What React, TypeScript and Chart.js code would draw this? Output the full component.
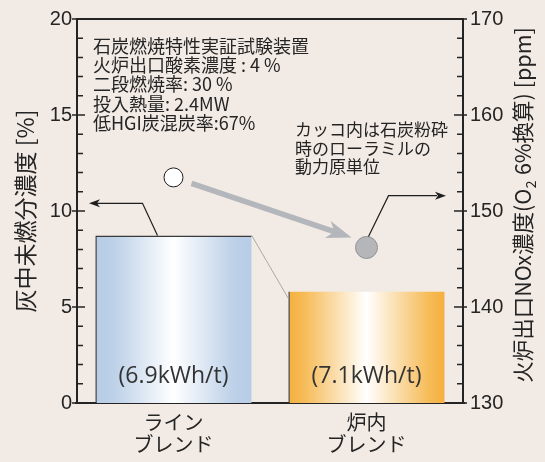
import { useEffect, useRef } from 'react';
import { Chart, registerables } from 'chart.js';

Chart.register(...registerables);

// ---- data ----
const categories: string[][] = [['ライン', 'ブレンド'], ['炉内', 'ブレンド']];
const unburnedCarbon: number[] = [8.73, 5.81]; // 灰中未燃分濃度 [%]
const noxPpm: number[] = [153.5, 146.2]; // 火炉出口NOx濃度 [ppm]
const powerNotes: string[] = ['(6.9kWh/t)', '(7.1kWh/t)'];
const leftTickValues: number[] = [0, 5, 10, 15, 20];
const rightTickValues: number[] = [130, 140, 150, 160, 170];
const conditionNotes: string[] = [
  '石炭燃焼特性実証試験装置',
  '火炉出口酸素濃度 : 4 %',
  '二段燃焼率: 30 %',
  '投入熱量: 2.4MW',
  '低HGI炭混炭率:67%',
];
const bracketNote: string[] = ['カッコ内は石炭粉砕', '時のローラミルの', '動力原単位'];
const leftTitle = '灰中未燃分濃度 [%]';
// right axis title: [normal, subscript, normal]
const rightTitleParts: string[] = ['火炉出口NOx濃度(O', '2', ' 6%換算) [ppm]'];

// ---- style ----
const BG = '#f2eae4';
const INK = '#242424';
const BAR_PCT = 0.81;
const JP = '"Noto Sans CJK JP", "Noto Sans", sans-serif';
const NUM = '"Liberation Sans", Arial, sans-serif';
const gradStops: [number, string][][] = [
  [[0, '#b7cde6'], [0.12, '#bdd1e8'], [0.5, '#ffffff'], [0.88, '#bdd1e8'], [1, '#b7cde6']],
  [[0, '#f4b03e'], [0.1, '#f6bb57'], [0.5, '#ffffff'], [0.9, '#f6bb57'], [1, '#f4b03e']],
];

function arrowHead(ctx: CanvasRenderingContext2D, tx: number, ty: number, angle: number, len: number, half: number, notch: number, color: string) {
  ctx.save();
  ctx.translate(tx, ty);
  ctx.rotate(angle);
  ctx.beginPath();
  ctx.moveTo(0, 0);
  ctx.lineTo(-len, -half);
  ctx.lineTo(-len + notch, 0);
  ctx.lineTo(-len, half);
  ctx.closePath();
  ctx.fillStyle = color;
  ctx.fill();
  ctx.restore();
}

const framePlugin = {
  id: 'frame',
  beforeDatasetsDraw(chart: any) {
    const { ctx, chartArea: a, scales } = chart;
    const y = scales.y;
    const y1 = scales.y1;
    ctx.save();
    ctx.strokeStyle = INK;
    ctx.lineWidth = 2;
    ctx.beginPath();
    ctx.moveTo(a.left, a.top);
    ctx.lineTo(a.right, a.top);
    ctx.moveTo(a.left, a.top - 1);
    ctx.lineTo(a.left, a.bottom + 1);
    ctx.moveTo(a.right, a.top - 1);
    ctx.lineTo(a.right, a.bottom + 1);
    ctx.moveTo(a.left - 2, a.bottom);
    ctx.lineTo(a.right + 2, a.bottom);
    ctx.stroke();
    // ticks
    ctx.lineWidth = 1.5;
    ctx.beginPath();
    for (let v = 0; v <= 20; v += 1) {
      const p = y.getPixelForValue(v);
      const major = v % 5 === 0;
      ctx.moveTo(major ? a.left - 5 : a.left, p);
      ctx.lineTo(a.left + (major ? 8 : 6), p);
    }
    for (let v = 130; v <= 170; v += 2) {
      const p = y1.getPixelForValue(v);
      const major = v % 10 === 0;
      ctx.moveTo(a.right - (major ? 9 : 6), p);
      ctx.lineTo(major ? a.right + 4 : a.right, p);
    }
    ctx.stroke();

    // right axis title, reading bottom-to-top, with subscript
    ctx.fillStyle = INK;
    ctx.textBaseline = 'middle';
    ctx.textAlign = 'left';
    const big = `21.5px ${JP}`;
    const small = `14px ${JP}`;
    ctx.font = big;
    const w0 = ctx.measureText(rightTitleParts[0]).width;
    const w2 = ctx.measureText(rightTitleParts[2]).width;
    ctx.font = small;
    const w1 = ctx.measureText(rightTitleParts[1]).width + 1;
    const total = w0 + w1 + w2;
    ctx.translate(a.right + 60, (a.top + a.bottom) / 2 - 6);
    ctx.rotate(-Math.PI / 2);
    let xx = -total / 2;
    ctx.font = big;
    ctx.fillText(rightTitleParts[0], xx, 0);
    xx += w0;
    ctx.font = small;
    ctx.fillText(rightTitleParts[1], xx + 0.5, 8);
    xx += w1;
    ctx.font = big;
    ctx.fillText(rightTitleParts[2], xx, 0);
    ctx.restore();
  },
  afterDatasetsDraw(chart: any) {
    const { ctx, chartArea: a, scales } = chart;
    const xs = scales.x;
    const y = scales.y;
    const y1 = scales.y1;
    const half = (xs.width / categories.length) * BAR_PCT / 2;
    const c0 = xs.getPixelForValue(0);
    const c1 = xs.getPixelForValue(1);
    const top0 = y.getPixelForValue(unburnedCarbon[0]);
    const top1 = y.getPixelForValue(unburnedCarbon[1]);
    const p0 = { x: c0, y: y1.getPixelForValue(noxPpm[0]) };
    const p1 = { x: c1, y: y1.getPixelForValue(noxPpm[1]) };
    ctx.save();

    // thin gray connector between bars
    ctx.strokeStyle = '#a9a9a9';
    ctx.lineWidth = 1;
    ctx.beginPath();
    ctx.moveTo(c0 + half, top0);
    ctx.lineTo(c1 - half, top1 + 7);
    ctx.stroke();

    // thick gray arrow between NOx points
    const sx = p0.x + 18, sy = p0.y + 6;
    const tx = p1.x - 15, ty = p1.y - 10;
    const ang = Math.atan2(ty - sy, tx - sx);
    ctx.strokeStyle = '#b3b6ba';
    ctx.lineWidth = 5.5;
    ctx.beginPath();
    ctx.moveTo(sx, sy);
    ctx.lineTo(tx - 16 * Math.cos(ang), ty - 16 * Math.sin(ang));
    ctx.stroke();
    arrowHead(ctx, tx, ty, ang, 25, 9, 7, '#b3b6ba');

    // black leader arrow: bar -> left axis
    const ey = y.getPixelForValue(10.4);
    ctx.strokeStyle = '#1e1e1e';
    ctx.lineWidth = 1.2;
    ctx.beginPath();
    ctx.moveTo(c0 - 16, top0);
    ctx.lineTo(c0 - 31, ey);
    ctx.lineTo(a.left + 20, ey);
    ctx.stroke();
    arrowHead(ctx, a.left + 12, ey, Math.PI, 11, 4, 3, '#1e1e1e');

    // black leader arrow: point -> right axis
    const ry = y1.getPixelForValue(151.6);
    ctx.beginPath();
    ctx.moveTo(p1.x + 2, p1.y - 11);
    ctx.lineTo(p1.x + 22, ry);
    ctx.lineTo(a.right - 26, ry);
    ctx.stroke();
    arrowHead(ctx, a.right - 17, ry, 0, 11, 4, 3, '#1e1e1e');

    // notes
    ctx.fillStyle = INK;
    ctx.textBaseline = 'middle';
    ctx.textAlign = 'left';
    ctx.font = `18px ${JP}`;
    conditionNotes.forEach((t, i) => ctx.fillText(t, a.left + 16, a.top + 27 + i * 19.3));
    ctx.font = `17px ${JP}`;
    bracketNote.forEach((t, i) => ctx.fillText(t, a.left + 218, a.top + 111 + i * 18.2));
    ctx.fillStyle = '#333333';
    ctx.textAlign = 'center';
    ctx.font = `23px "Open Sans", "Noto Sans", sans-serif`;
    powerNotes.forEach((t, i) => ctx.fillText(t, xs.getPixelForValue(i), a.bottom - 27));
    ctx.restore();
  },
};

export default function App() {
  const ref = useRef<HTMLCanvasElement | null>(null);
  useEffect(() => {
    document.body.style.margin = '0';
    document.body.style.background = BG;
    if (!ref.current) return;
    Chart.defaults.font.family = JP;
    const chart = new Chart(ref.current, {
      type: 'bar',
      data: {
        labels: categories,
        datasets: [
          {
            type: 'bar',
            label: '灰中未燃分濃度',
            data: unburnedCarbon,
            yAxisID: 'y',
            barPercentage: BAR_PCT,
            categoryPercentage: 1,
            borderColor: '#3a3a3a',
            borderWidth: [
              { top: 1.5, left: 1.5, right: 0, bottom: 0 },
              { top: 0, left: 1.5, right: 0, bottom: 0 },
            ] as any,
            borderSkipped: false,
            backgroundColor: (c: any) => {
              const chart = c.chart;
              const idx = c.dataIndex ?? 0;
              const xs = chart.scales?.x;
              if (!chart.chartArea || !xs || c.type !== 'data') return idx === 0 ? '#c9daec' : '#f6c46a';
              const cx = xs.getPixelForValue(idx);
              const half = (xs.width / categories.length) * BAR_PCT / 2;
              const g = chart.ctx.createLinearGradient(cx - half, 0, cx + half, 0);
              gradStops[idx].forEach(([o, col]) => g.addColorStop(o, col));
              return g;
            },
            order: 2,
          } as any,
          {
            type: 'line',
            label: '火炉出口NOx濃度',
            data: noxPpm,
            yAxisID: 'y1',
            showLine: false,
            pointRadius: [9.5, 11],
            pointBackgroundColor: ['#ffffff', '#b4b6b9'],
            pointBorderColor: ['#1e1e1e', '#8f9194'],
            pointBorderWidth: 1,
            order: 1,
          } as any,
        ],
      },
      options: {
        responsive: false,
        animation: false,
        layout: { padding: { top: 16, left: 0, right: 0, bottom: 0 } },
        plugins: { legend: { display: false }, tooltip: { enabled: false } },
        scales: {
          x: {
            offset: true,
            grid: { display: false, drawTicks: false },
            border: { display: false },
            ticks: { color: INK, font: { family: JP, size: 20, lineHeight: 1.1 }, padding: 8, maxRotation: 0 },
            afterFit: (s: any) => { s.height = 59; },
          },
          y: {
            position: 'left',
            min: 0,
            max: 20,
            afterBuildTicks: (s: any) => { s.ticks = leftTickValues.map((v) => ({ value: v })); },
            grid: { display: false, drawTicks: false },
            border: { display: false },
            ticks: { color: INK, font: { family: NUM, size: 20 }, padding: 5 },
            title: { display: true, text: leftTitle, color: INK, font: { family: JP, size: 23 }, padding: { top: 11, bottom: 11 } },
            afterFit: (s: any) => { s.width = 77; },
          },
          y1: {
            position: 'right',
            min: 130,
            max: 170,
            afterBuildTicks: (s: any) => { s.ticks = rightTickValues.map((v) => ({ value: v })); },
            grid: { display: false, drawTicks: false },
            border: { display: false },
            ticks: { color: INK, font: { family: NUM, size: 20 }, padding: 7 },
            afterFit: (s: any) => { s.width = 82; },
          },
        },
      },
      plugins: [framePlugin],
    });
    return () => chart.destroy();
  }, []);
  return (
    <div style={{ width: 545, height: 462, background: BG }}>
      <canvas ref={ref} width={545} height={462} style={{ display: 'block' }} />
    </div>
  );
}
